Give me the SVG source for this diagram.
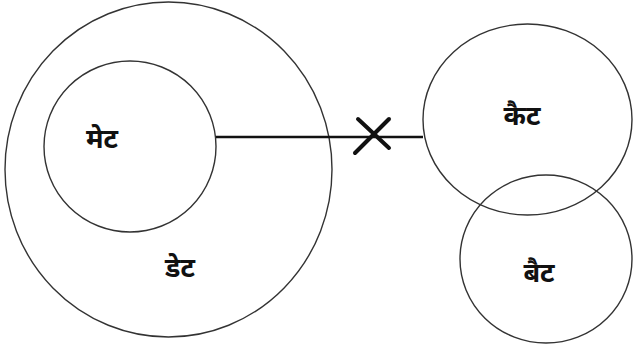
<svg xmlns="http://www.w3.org/2000/svg" width="633" height="350" viewBox="0 0 633 350">
<style>
.c{fill:none;stroke:#333;stroke-width:1.4}
.t{font-family:"Noto Sans Devanagari","Noto Sans","Lohit Devanagari","FreeSans",sans-serif;font-size:27px;font-weight:bold;fill:#111;text-anchor:middle}
.l{stroke:#111;stroke-width:2.5;fill:none}
.x{stroke:#111;stroke-width:4;fill:none;stroke-linecap:round}
</style>
<rect width="633" height="350" fill="#fff"/>
<g id="det">
<ellipse class="c" cx="168.5" cy="169.5" rx="163.5" ry="167.5"/>
<text class="t" x="180" y="277">डेट</text>
</g>
<g id="met">
<ellipse class="c" cx="130" cy="146.5" rx="86" ry="85.5"/>
<text class="t" x="102" y="148">मेट</text>
</g>
<g id="kait">
<ellipse class="c" cx="527.5" cy="119.5" rx="104.5" ry="95.5"/>
<text class="t" x="522" y="125">कैट</text>
</g>
<g id="bait">
<ellipse class="c" cx="546" cy="259" rx="86" ry="84"/>
<text class="t" x="539" y="282">बैट</text>
</g>
<g id="connectors">
<line class="l" x1="216" y1="137" x2="423" y2="137"/>
<line class="x" x1="355" y1="153" x2="389" y2="119"/>
<line class="x" x1="358" y1="119" x2="389" y2="148"/>
</g>
</svg>
